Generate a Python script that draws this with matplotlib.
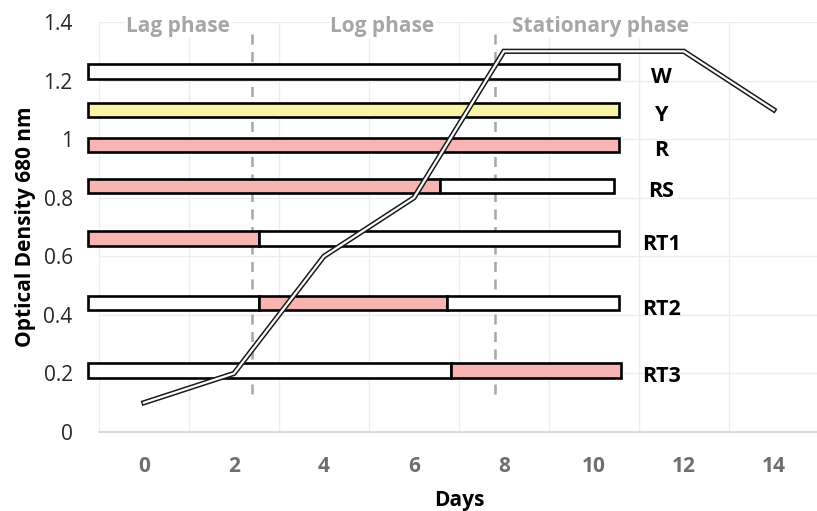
import matplotlib
matplotlib.use('Agg')
import matplotlib.pyplot as plt
from matplotlib.ticker import FixedLocator, FuncFormatter

plt.rcParams['font.family'] = ['Open Sans', 'DejaVu Sans']

# growth curve
days = [0, 2, 4, 6, 8, 10, 12, 14]
od680 = [0.1, 0.2, 0.6, 0.8, 1.3, 1.3, 1.3, 1.1]

# colour bars (one row per strain)
strains = ['W', 'Y', 'R', 'RS', 'RT1', 'RT2', 'RT3']
strain_y = [1.23, 1.10, 0.98, 0.84, 0.66, 0.44, 0.21]
seg_bounds = [
    [-1.25, 10.55],
    [-1.25, 10.55],
    [-1.25, 10.55],
    [-1.25, 6.58, 10.45],
    [-1.25, 2.56, 10.55],
    [-1.25, 2.56, 6.73, 10.55],
    [-1.25, 6.82, 10.6],
]
seg_fill = [
    ['white'],
    ['yellow'],
    ['pink'],
    ['pink', 'white'],
    ['pink', 'white'],
    ['white', 'pink', 'white'],
    ['white', 'pink'],
]

# growth phases
phase_bounds = [2.4, 7.8]
phase_names = ['Lag phase', 'Log phase', 'Stationary phase']
phase_text_x = [0.75, 5.3, 10.15]

colors = {'white': '#FFFFFF', 'yellow': '#FAF5A5', 'pink': '#F6B4B2'}
grey = '#A6A6A6'

fig = plt.figure(figsize=(8.17, 5.11), dpi=100)
ax = fig.add_axes([0.1212, 0.1546, 0.881, 0.8023])
ax.set_xlim(-1, 15)
ax.set_ylim(0, 1.4)

# gridlines: horizontal on major y, vertical between categories
ax.yaxis.set_major_locator(FixedLocator([0, 0.2, 0.4, 0.6, 0.8, 1.0, 1.2, 1.4]))
ax.xaxis.set_major_locator(FixedLocator(days))
ax.xaxis.set_minor_locator(FixedLocator([-1, 1, 3, 5, 7, 9, 11, 13]))
ax.grid(axis='y', which='major', color='#EDEDED', lw=1)
ax.grid(axis='x', which='minor', color='#EDEDED', lw=1)
ax.set_axisbelow(True)
for s in ['top', 'right', 'left']:
    ax.spines[s].set_visible(False)
ax.spines['bottom'].set_color('#D9D9D9')
ax.spines['bottom'].set_linewidth(1.3)

ax.yaxis.set_major_formatter(FuncFormatter(lambda v, p: '%g' % round(v, 1)))
ax.tick_params(axis='both', which='both', length=0)
ax.tick_params(axis='y', labelsize=15, pad=19, labelcolor='#262626')
ax.tick_params(axis='x', labelsize=15, pad=17, labelcolor='#6F6F6F')
for lab in ax.get_xticklabels():
    lab.set_fontweight('bold')

# strain bars
for name, y, bounds, fills in zip(strains, strain_y, seg_bounds, seg_fill):
    for i, f in enumerate(fills):
        ax.barh(y, bounds[i + 1] - bounds[i], left=bounds[i], height=0.05,
                color=colors[f], edgecolor='black', linewidth=1.9, zorder=3,
                clip_on=False)
    ax.text(11.5, y - 0.02, name, fontsize=15.5, fontweight='bold',
            ha='center', va='center', zorder=4)

# phase separators and labels
for xb in phase_bounds:
    ax.plot([xb, xb], [0.13, 1.38], color=grey, lw=1.8, ls=(0, (4, 3)), zorder=2)
for name, xt in zip(phase_names, phase_text_x):
    ax.text(xt, 1.385, name, color=grey, fontsize=15, fontweight='bold',
            ha='center', va='center', zorder=4,
            bbox=dict(facecolor='white', edgecolor='none', pad=1))

# double-line growth curve
ax.plot(days, od680, color='#1A1A1A', lw=3.8, zorder=5, solid_joinstyle='miter')
ax.plot(days, od680, color='white', lw=1.6, zorder=6, solid_joinstyle='miter')

ax.set_xlabel('Days', fontsize=15, fontweight='bold', labelpad=10)
ax.set_ylabel('Optical Density 680 nm', fontsize=15, fontweight='bold', labelpad=5)

fig.savefig('out.png', dpi=100)
